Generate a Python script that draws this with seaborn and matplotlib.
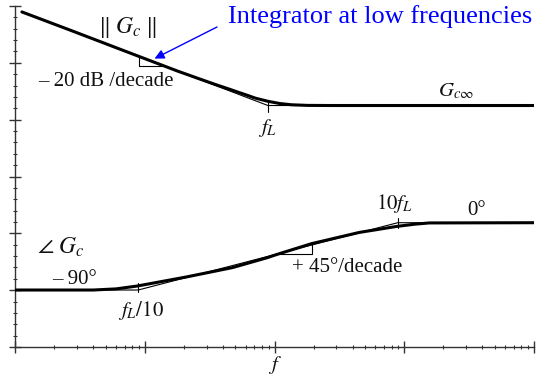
import numpy as np
import pandas as pd
import matplotlib
matplotlib.use("Agg")
import matplotlib.pyplot as plt
import seaborn as sns

# Bode sketch of a PI compensator Gc(s) = Gc_inf * (1 + wL / s)
# corner frequency f_L (x axis in arbitrary frequency units, log scale)
f_L = 0.89

# magnitude of Gc, in dB relative to the high-frequency gain Gc_inf
mag_freq = [0.0113, 0.027, 0.089, 0.18, 0.27, 0.36, 0.45, 0.53, 0.62, 0.71,
            0.89, 1.1, 1.35, 1.8, 2.7, 100.0]
mag_db = [37.9, 30.4, 20.0, 13.9, 10.6, 8.3, 6.6, 5.3, 4.1, 3.0,
          1.7, 0.8, 0.3, 0.05, 0.0, 0.0]

# straight-line magnitude asymptotes (-20 dB/decade, then flat)
mag_asym_freq = [0.0113, 0.89, 100.0]
mag_asym_db = [37.9, 0.0, 0.0]

# phase of Gc, in degrees
ph_freq = [0.01, 0.04, 0.06, 0.088, 0.21, 0.475, 0.87, 1.04, 1.93, 4.5,
           8.7, 12.0, 15.6, 100.0]
ph_deg = [-90.0, -90.0, -88.5, -84.6, -72.5, -60.0, -47.0, -42.5, -28.0,
          -13.0, -5.0, -2.0, -0.3, 0.0]

# straight-line phase asymptotes (+45 deg/decade between f_L/10 and 10 f_L)
ph_asym_freq = [0.01, 0.089, 8.9, 100.0]
ph_asym_deg = [-90.0, -90.0, 0.0, 0.0]

# slope triangles drawn against the curves
mag_tri_freq = [0.09, 0.09, 0.136]
mag_tri_db = [19.9, 16.2, 16.2]
ph_tri_freq = [1.04, 1.93, 1.93]
ph_tri_deg = [-42.5, -42.5, -28.5]

# short markers at the asymptote corners
mag_mark_freq = [0.89, 0.89]
mag_mark_db = [1.4, -2.6]
ph_mark1_freq = [0.089, 0.089]
ph_mark1_deg = [-81.0, -93.0]
ph_mark2_freq = [8.9, 8.9]
ph_mark2_deg = [6.5, -6.5]

sns.set_theme(style="white")
plt.rcParams["font.family"] = ["Liberation Serif", "DejaVu Serif"]
plt.rcParams["mathtext.fontset"] = "stix"

W, H = 536, 385
fig = plt.figure(figsize=(W / 100, H / 100), dpi=100)
ax = fig.add_axes([15 / W, 38 / H, 519 / W, 341 / H])
ax.set_xscale("log")
ax.set_xlim(0.01, 100)
ax.set_ylim(-97.8, 40.3)
ax.patch.set_alpha(0)

axp = ax.twinx()
axp.set_ylim(-166.2, 289.8)
axp.patch.set_alpha(0)
for s in axp.spines.values():
    s.set_visible(False)
axp.set_yticks([])
axp.tick_params(which="both", right=False, left=False)

thick = dict(color="black", linewidth=2.2, sort=False, estimator=None)
thin = dict(color="black", linewidth=0.8, sort=False, estimator=None)

sns.lineplot(x=mag_asym_freq, y=mag_asym_db, ax=ax, **thin)
sns.lineplot(x=mag_freq, y=mag_db, ax=ax, **thick)
sns.lineplot(x=mag_tri_freq, y=mag_tri_db, ax=ax, **thin)
sns.lineplot(x=mag_mark_freq, y=mag_mark_db, ax=ax, **thin)

sns.lineplot(x=ph_asym_freq, y=ph_asym_deg, ax=axp, **thin)
sns.lineplot(x=ph_freq, y=ph_deg, ax=axp, **thick)
sns.lineplot(x=ph_tri_freq, y=ph_tri_deg, ax=axp, **thin)
sns.lineplot(x=ph_mark1_freq, y=ph_mark1_deg, ax=axp, **thin)
sns.lineplot(x=ph_mark2_freq, y=ph_mark2_deg, ax=axp, **thin)

# axis frame: left and bottom only, with crossing ticks and no labels
for side in ("top", "right"):
    ax.spines[side].set_visible(False)
for side in ("left", "bottom"):
    ax.spines[side].set_color("#333333")
    ax.spines[side].set_linewidth(1.0)
lo, hi = ax.get_ylim()
ax.set_yticks(np.linspace(lo, hi, 7))
ax.set_yticks(np.linspace(lo, hi, 31), minor=True)
ax.set_xticks([0.01, 0.1, 1, 10, 100])
ax.xaxis.set_minor_locator(matplotlib.ticker.LogLocator(base=10, subs=np.arange(2, 10)))
ax.tick_params(which="major", direction="inout", length=8, width=1.0,
               color="#333333", left=True, bottom=True,
               labelleft=False, labelbottom=False)
ax.tick_params(which="minor", direction="inout", length=3, width=0.8,
               color="#333333", left=True, bottom=True)
ax.set_xlabel("")
ax.set_ylabel("")
axp.set_ylabel("")


def px(x, y):
    return (x / W, 1 - y / H)


lab = dict(ha="center", va="center", fontsize=15, color="#111111")
fig.text(*px(127, 28), r"$\Vert\;G_c\;\Vert$", **{**lab, "fontsize": 17})
fig.text(*px(106, 81), "\u2013 20 dB /decade", **lab)
fig.text(*px(456, 91), r"$G_{c\infty}$", **lab)
fig.text(*px(268, 128), r"$f_L$", **lab)
fig.text(*px(61, 247), r"$\angle\ G_c$", **{**lab, "fontsize": 17})
fig.text(*px(75, 279), "\u2013 90\u00b0", **lab)
fig.text(*px(141, 311), r"$f_L/10$", **lab)
fig.text(*px(347, 268), "+ 45\u00b0/decade", **lab)
fig.text(*px(394, 204), r"$10f_L$", **lab)
fig.text(*px(477, 211), "0\u00b0", **lab)
fig.text(*px(275, 365), r"$f$", **lab)

fig.text(*px(228, 17), "Integrator at low frequencies", ha="left", va="center",
         fontsize=19, color="#0000ff")
ax.annotate("", xy=(0.119, 19.0), xycoords="data",
            xytext=(217, H - 27), textcoords="figure pixels",
            arrowprops=dict(arrowstyle="-|>", color="#0000ff", lw=1.0,
                            mutation_scale=14, shrinkA=0, shrinkB=0))

fig.savefig("out.png", dpi=100)
